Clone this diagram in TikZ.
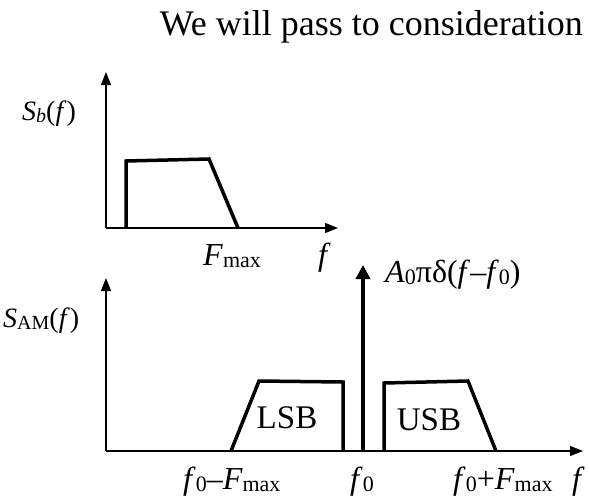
\documentclass[tikz,border=0pt]{standalone}
\usepackage{fontspec}
\setmainfont{Liberation Serif}
\usetikzlibrary{arrows.meta}
\newcommand\lsub[1]{\raisebox{-2.5pt}{\fontsize{22}{22}\selectfont #1}}
\newcommand\ssub[1]{\raisebox{-2.5pt}{\fontsize{20}{20}\selectfont #1}}
\begin{document}
\begin{tikzpicture}[x=1pt,y=-1pt,
 axis/.style={line width=1.2pt,-{Triangle[length=13pt,width=10pt]}},
 spec/.style={line width=3.5pt,line join=miter},
 lbl/.style={inner sep=0pt,font=\fontsize{32}{32}\selectfont},
 small/.style={inner sep=0pt,font=\fontsize{28}{28}\selectfont}]
\useasboundingbox (0,0) rectangle (590,499);
\node[inner sep=0pt,font=\fontsize{36}{36}\selectfont,anchor=base east] (title) at (583,35) {We will pass to consideration};
% top graph
\coordinate (o1) at (106,228);
\coordinate (y1) at (106,72);
\coordinate (x1) at (338,228);
\draw[axis] (o1) -- (y1);
\draw[axis] (o1) -- (x1);
\draw[spec] (126,228) -- (126,161) -- (209,159) -- (238,228);
\node[small,anchor=base west] (sb) at (22,120) {\textit{S}\ssub{\textit{b}}(\textit{f})};
\node[lbl,anchor=base west] (fmax) at (203,265) {\textit{F}\lsub{max}};
\node[lbl,anchor=base west] (f1) at (318,265) {\textit{f}};
% bottom graph
\coordinate (o2) at (106,451);
\coordinate (y2) at (106,278);
\coordinate (x2) at (583,451);
\coordinate (c0) at (363,451);
\coordinate (c1) at (363,265);
\draw[axis] (o2) -- (y2);
\draw[axis] (o2) -- (x2);
\draw[line width=3.5pt,-{Triangle[length=14pt,width=14pt]}] (c0) -- (c1);
\draw[spec] (231,451) -- (259,381) -- (343,382) -- (343,451);
\draw[spec] (384,451) -- (384,383) -- (468,381) -- (496,451);
\node[small,anchor=base west] (sam) at (3,327) {\textit{S}\ssub{AM}(\textit{f})};
\node[lbl,anchor=base west] (delta) at (385,282) {\textit{A}\lsub{0}πδ(\textit{f}–\textit{f}\lsub{0})};
\node[inner sep=0pt,font=\fontsize{33}{33}\selectfont,anchor=base] (lsb) at (287,428) {LSB};
\node[inner sep=0pt,font=\fontsize{33}{33}\selectfont,anchor=base] (usb) at (429,430) {USB};
\node[lbl,anchor=base west] (fl) at (183,489) {\textit{f}\lsub{0}–\textit{F}\lsub{max}};
\node[lbl,anchor=base] (f0) at (362,489) {\textit{f}\lsub{0}};
\node[lbl,anchor=base west] (fu) at (453,489) {\textit{f}\lsub{0}+\textit{F}\lsub{max}};
\node[lbl,anchor=base west] (f2) at (572,489) {\textit{f}};
\end{tikzpicture}
\end{document}
